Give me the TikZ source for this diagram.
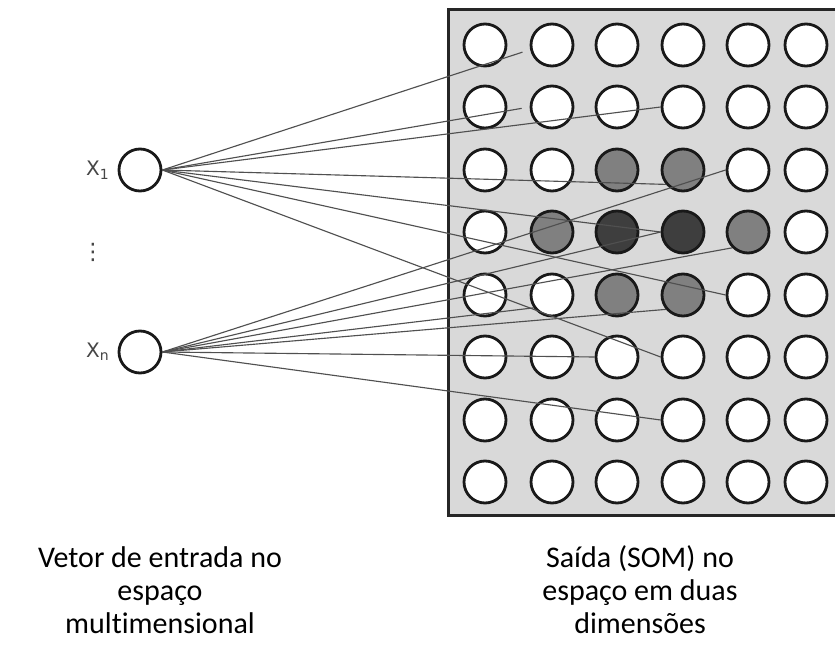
\documentclass[tikz,border=0pt]{standalone}
\usepackage{fontspec}
\setmainfont{Carlito}[Ligatures=NoCommon]
\newfontfamily\labelfont{DejaVu Sans}
\usetikzlibrary{positioning}
\definecolor{baggrund}{RGB}{217,217,217}
\definecolor{mellem}{RGB}{128,128,128}
\definecolor{mork}{RGB}{62,62,62}
\definecolor{linje}{RGB}{80,80,80}
\definecolor{etiket}{RGB}{70,70,70}
\tikzset{
  neuron/.style={circle,draw=black!90,line width=2.1pt,fill=white,minimum size=31.5pt,inner sep=0pt},
  link/.style={linje,line width=0.85pt},
  ramme/.style={draw=black!85,line width=2.25pt,fill=baggrund},
  inlabel/.style={etiket,font=\labelfont\fontsize{15}{17}\selectfont,inner sep=1pt},
  tekst/.style={align=center,font=\fontsize{22.5}{24.8}\selectfont},
  s33/.style={fill=mellem}, s34/.style={fill=mellem},
  s42/.style={fill=mellem}, s43/.style={fill=mork},
  s44/.style={fill=mork}, s45/.style={fill=mellem},
  s53/.style={fill=mellem}, s54/.style={fill=mellem}
}
\begin{document}
\begin{tikzpicture}[x=0.75pt,y=-0.75pt]
  \useasboundingbox (0,0) rectangle (835,648);
  \draw[ramme] (448,10) rectangle (850,515); %kort
  \foreach \y [count=\r] in {45,107,170,232,295,357,420,482}
    \foreach \x [count=\k] in {485,552,617,683,748,806}
      \node[neuron,s\r\k/.try] (r\r-\k) at (\x,\y) {}; %neuroner
  \node[neuron] (x1) at (140,170) {}; %input 1
  \node[neuron] (xn) at (140,352) {}; %input n
  \node[inlabel,left=5pt of x1] (lx1) {X\textsubscript{1}};
  \node[inlabel,left=5pt of xn] (lxn) {X\textsubscript{n}};
  \node[inlabel,font=\labelfont\fontsize{17}{19}\selectfont] (prikker) at (93,252) {⋮};
  \draw[link,shorten >=6pt] (x1.east) -- (r1-2.192);
  \draw[link,shorten >=6pt] (x1.east) -- (r2-2.west);
  \foreach \m in {r2-4.west,r3-4.220,r4-4.west,r5-5.west,r6-4.west}
    \draw[link] (x1.east) -- (\m); %linjer fra x1
  \foreach \m in {r3-5.west,r4-4.west,r4-5.225,r5-4.220,r5-2.215,r6-3.west,r7-4.west}
    \draw[link] (xn.east) -- (\m); %linjer fra xn
  \node[tekst] (inddata) at (160,590) {Vetor de entrada no\\espaço\\multimensional};
  \node[tekst] (uddata) at (640,590) {Saída (SOM) no\\espaço em duas\\dimensões};
\end{tikzpicture}
\end{document}
